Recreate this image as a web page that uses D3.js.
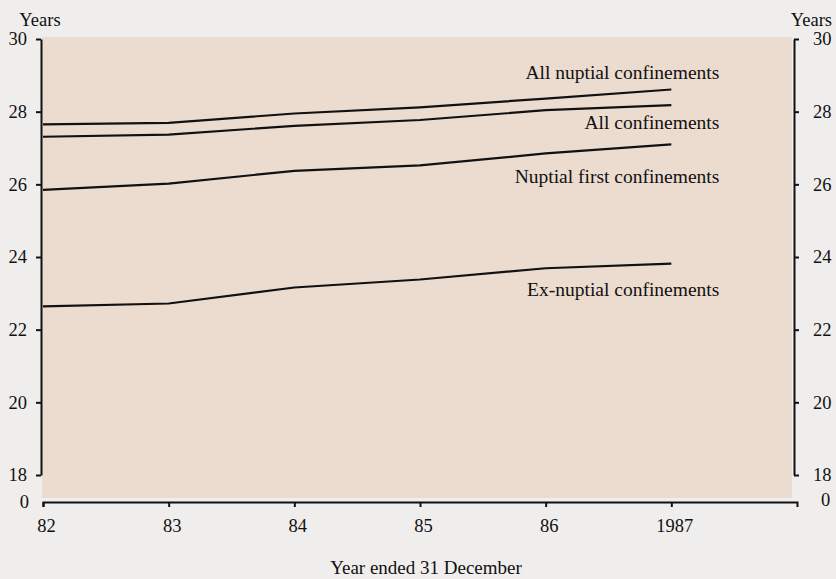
<!DOCTYPE html>
<html>
<head>
<meta charset="utf-8">
<script src="https://cdn.jsdelivr.net/npm/d3@7"></script>
<style>
body { margin: 0; background: #f0eeed; }
svg text { font-family: "Liberation Serif", "Times New Roman", serif; fill: #111; }
</style>
</head>
<body>
<script>
var years = [82, 83, 84, 85, 86, 87];
var xTickLabels = ["82", "83", "84", "85", "86", "1987"];
var yTicks = [18, 20, 22, 24, 26, 28, 30];

var allNuptial = [27.65, 27.69, 27.95, 28.12, 28.36, 28.61];
var allConf = [27.31, 27.37, 27.61, 27.77, 28.04, 28.18];
var nuptialFirst = [25.85, 26.02, 26.37, 26.52, 26.85, 27.10];
var exNuptial = [22.64, 22.72, 23.16, 23.38, 23.69, 23.82];

var seriesNames = ["All nuptial confinements", "All confinements", "Nuptial first confinements", "Ex-nuptial confinements"];
var labelDy = [-11, 24, 39, 32];

var width = 836, height = 579;

var x = d3.scaleLinear().domain([82, 88]).range([43, 797]);
var y = d3.scaleLinear().domain([18, 30]).range([475, 39]);
var xAxisY = 502;

var svg = d3.select("body").append("svg")
    .attr("width", width)
    .attr("height", height);

svg.append("rect")
    .attr("width", width).attr("height", height)
    .attr("fill", "#f0eeed");

// shaded plot panel
svg.append("rect")
    .attr("x", x(82) - 1).attr("y", y(30) - 2)
    .attr("width", x(88) - x(82) - 4)
    .attr("height", xAxisY - y(30) - 2)
    .attr("fill", "#ecdccf");

var leftAxis = d3.axisLeft(y).tickValues(yTicks).tickSize(5).tickSizeOuter(0).tickPadding(9);
var rightAxis = d3.axisRight(y).tickValues(yTicks).tickSize(5).tickSizeOuter(0).tickPadding(14);
var xAxis = d3.axisBottom(x).tickValues(years)
    .tickFormat(function(d, i) { return xTickLabels[i]; })
    .tickSize(5).tickSizeOuter(5).tickPadding(12);

var gl = svg.append("g").attr("transform", "translate(" + (x(82) - 2) + ",0)").call(leftAxis);
var gr = svg.append("g").attr("transform", "translate(" + (x(88) - 3) + ",0)").call(rightAxis);
var gx = svg.append("g").attr("transform", "translate(0," + xAxisY + ")").call(xAxis);

[gl, gr, gx].forEach(function(g) {
    g.selectAll("path, line").attr("stroke", "#111").attr("stroke-width", 2);
    g.selectAll("text").attr("font-size", 18.5).attr("fill", "#111")
        .attr("font-family", "Liberation Serif, serif");
});
gx.selectAll("text").attr("dx", 3);

// "0" at the foot of each axis (broken scale)
svg.append("text").attr("x", 29).attr("y", xAxisY).attr("dy", "0.35em")
    .attr("text-anchor", "end").attr("font-size", 18.5).text("0");
svg.append("text").attr("x", 821).attr("y", xAxisY - 2).attr("dy", "0.35em")
    .attr("text-anchor", "start").attr("font-size", 18.5).text("0");

// unit labels
svg.append("text").attr("x", 40).attr("y", 26).attr("text-anchor", "middle")
    .attr("font-size", 18.5).text("Years");
svg.append("text").attr("x", 832).attr("y", 26).attr("text-anchor", "end")
    .attr("font-size", 18.5).text("Years");

svg.append("text").attr("x", 426).attr("y", 574).attr("text-anchor", "middle")
    .attr("font-size", 19).text("Year ended 31 December");

var seriesValues = [allNuptial, allConf, nuptialFirst, exNuptial];

var line = d3.line()
    .x(function(d, i) { return x(years[i]); })
    .y(function(d) { return y(d); });

seriesValues.forEach(function(vals, k) {
    svg.append("path")
        .datum(vals)
        .attr("d", line)
        .attr("fill", "none")
        .attr("stroke", "#111")
        .attr("stroke-width", 2.2);

    svg.append("text")
        .attr("x", x(87) + 48)
        .attr("y", y(vals[vals.length - 1]) + labelDy[k])
        .attr("text-anchor", "end")
        .attr("font-size", 19.5)
        .text(seriesNames[k]);
});
</script>
</body>
</html>
